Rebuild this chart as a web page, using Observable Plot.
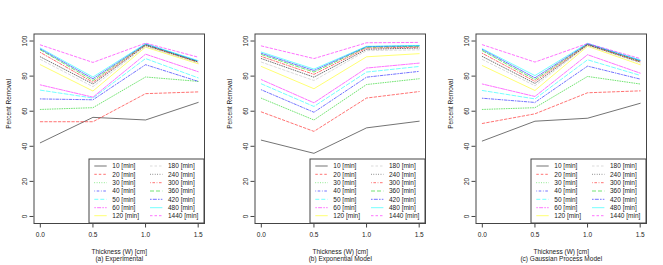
<!DOCTYPE html>
<html><head><meta charset="utf-8">
<script src="https://cdn.jsdelivr.net/npm/d3@7"></script>
<script src="https://cdn.jsdelivr.net/npm/@observablehq/plot@0.6"></script>
<style>
body{margin:0;background:#fff}
#c{display:flex;width:663px;height:265px}
svg{font-family:"Liberation Sans",Arial,sans-serif}
text.leg{text-anchor:start !important}
</style>
</head><body><div id="c"></div>
<script>
const thickness = [0, 0.5, 1.0, 1.5];
const times = [10, 20, 30, 40, 50, 60, 120, 180, 240, 300, 360, 420, 480, 1440];
const panelTitles = ["(a) Experimental", "(b) Exponential Model", "(c) Gaussian Process Model"];
const xTitle = "Thickness (W) [cm]";
const yTitle = "Percent Removal";
const xTicks = [0, 0.5, 1.0, 1.5];
const yTicks = [0, 20, 40, 60, 80, 100];

const experimental = [
  [42, 56.5, 55, 65],
  [54, 54, 70, 71],
  [61, 62, 79.5, 77],
  [67, 66.5, 86.5, 77],
  [72, 67.5, 90, 79],
  [75, 68, 92.5, 82.5],
  [86.5, 71.5, 96.5, 87],
  [89.5, 74, 97, 87.5],
  [91, 75.5, 97.5, 88],
  [93.5, 76.5, 97.8, 88],
  [95, 77.5, 98, 88.3],
  [95.5, 78.5, 98.2, 88.5],
  [96, 79.5, 98.5, 88.8],
  [97.8, 87.8, 98.8, 90.8]
];
const exponentialModel = [
  [43.5, 36, 50.5, 54.3],
  [59.6, 48.5, 67.5, 71.2],
  [67.4, 55, 75.2, 78.5],
  [72.2, 59.4, 79.4, 82.7],
  [75.6, 62.7, 82.3, 85.5],
  [78, 64.8, 84.6, 87.4],
  [85.5, 72.8, 91, 92.8],
  [88, 77.5, 94.5, 95],
  [90, 79.4, 95.3, 96],
  [91.2, 81, 96, 96.5],
  [92.3, 82.3, 96.5, 97],
  [93, 83.2, 96.8, 97.3],
  [93.7, 84, 97, 97.5],
  [97.2, 90, 99, 99.2]
];
const gaussianModel = [
  [43, 54.3, 56, 64.5],
  [53, 58.5, 70.5, 71.6],
  [61, 62, 79.8, 75.5],
  [67.4, 65, 85.7, 78.3],
  [71.8, 67, 89.3, 80.4],
  [75.5, 68.4, 92.2, 81.7],
  [86, 71.8, 97, 86.5],
  [89.5, 74.5, 97.5, 87.5],
  [91.2, 75.8, 97.8, 88],
  [93, 77, 98, 88.3],
  [94.5, 78, 98.2, 88.6],
  [95.2, 79, 98.4, 88.9],
  [95.6, 80.3, 98.7, 89.2],
  [97.9, 88, 98.6, 90]
];

const colors = ["#000000", "#FF0000", "#00CD00", "#0000FF", "#00FFFF", "#FF00FF", "#FFFF00", "#BEBEBE"];
const dashes = [undefined, "2.5,2", "0.8,1.6", "0.8,1.6,2.6,1.6", "4,2", "1.6,1.2,4,1.2"];
const lineOpacity = 0.55;

const W = 221, H = 265;
const M = {top: 33.5, right: 17, bottom: 42, left: 33.5};
const FS = 6.5;

function panel(values, title) {
  const rows = [];
  times.forEach((t, i) => thickness.forEach((x, j) => rows.push({s: i, x, y: values[i][j]})));
  const marks = [];
  times.forEach((t, i) => {
    marks.push(Plot.line(rows.filter(r => r.s === i), {
      x: "x", y: "y", stroke: colors[i % 8], strokeOpacity: lineOpacity,
      strokeDasharray: dashes[i % 6], strokeWidth: 1
    }));
  });
  marks.push(Plot.frame({stroke: "#444", strokeWidth: 1}));
  marks.push(Plot.axisX(xTicks, {tickSize: 4.5, tickPadding: 4, fontSize: FS, fill: "#222", stroke: "#444", tickFormat: d => d.toFixed(1), label: null}));
  marks.push(Plot.axisY(yTicks, {tickSize: 4, tickPadding: 3, fontSize: FS, fill: "#222", stroke: "#444", tickRotate: -90, label: null}));
  marks.push(Plot.text([yTitle], {text: d => d, frameAnchor: "left", dx: -25.5, rotate: -90, fontSize: FS, fill: "#222", lineAnchor: "middle"}));
  marks.push(Plot.text([xTitle], {text: d => d, frameAnchor: "bottom", dy: 28, fontSize: FS, fill: "#222", lineAnchor: "middle"}));
  marks.push(Plot.text([title], {text: d => d, frameAnchor: "bottom", dy: 35.2, fontSize: FS, fill: "#222", lineAnchor: "middle"}));
  const svg = Plot.plot({
    width: W, height: H,
    marginTop: M.top, marginRight: M.right, marginBottom: M.bottom, marginLeft: M.left,
    x: {domain: [-0.06, 1.56], label: null},
    y: {domain: [-4, 104], label: null},
    style: {fontFamily: "'Liberation Sans', Arial, sans-serif", background: "#fff"},
    marks
  });
  // legend (bottom-right, inside the plot box)
  const boxR = W - M.right, boxB = H - M.bottom;
  const lw = 115, lh = 64;
  const lx = boxR - lw, ly = boxB - lh;
  const g = d3.select(svg).append("g");
  g.append("rect").attr("x", lx).attr("y", ly).attr("width", lw).attr("height", lh)
    .attr("fill", "#fff").attr("stroke", "#444").attr("stroke-width", 1);
  const rowOff = [-57, -48.7, -40.3, -32, -23.7, -15.3, -7.3];
  times.forEach((t, i) => {
    const col = Math.floor(i / 7), row = i % 7;
    const x0 = lx + (col ? 61 : 5.3);
    const yy = boxB + rowOff[row];
    g.append("line").attr("x1", x0).attr("x2", x0 + 12.4).attr("y1", yy).attr("y2", yy)
      .attr("stroke", colors[i % 8]).attr("stroke-opacity", lineOpacity)
      .attr("stroke-dasharray", dashes[i % 6] || null).attr("stroke-width", 1);
    g.append("text").attr("class", "leg").attr("x", x0 + 18).attr("y", yy).attr("dy", "0.35em")
      .style("text-anchor", "start")
      .attr("font-size", FS).attr("fill", "#222").text(`${t} [min]`);
  });
  return svg;
}

const c = document.getElementById("c");
c.appendChild(panel(experimental, panelTitles[0]));
c.appendChild(panel(exponentialModel, panelTitles[1]));
c.appendChild(panel(gaussianModel, panelTitles[2]));
</script>
</body></html>
